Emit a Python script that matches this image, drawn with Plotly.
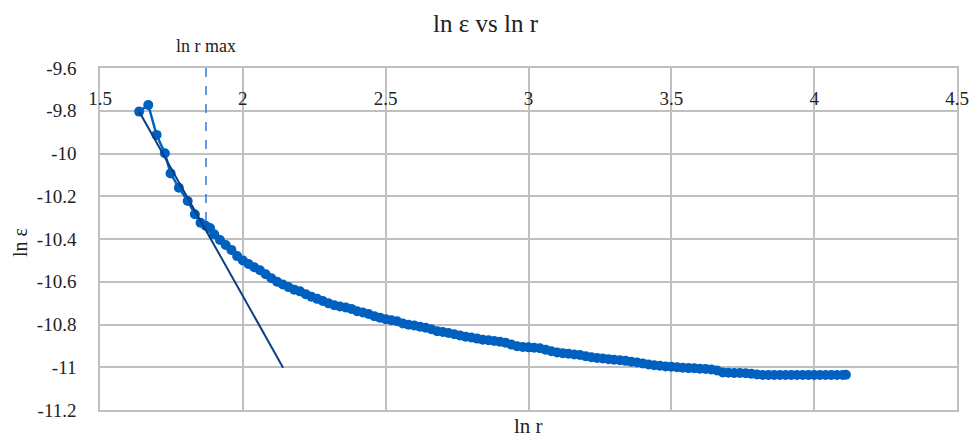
import plotly.graph_objects as go

# ---- data ----
ln_r = [1.637, 1.669, 1.698, 1.727, 1.747, 1.776, 1.807, 1.832, 1.852, 1.870, 1.885,
        1.90, 1.92, 1.94, 1.96, 1.98, 2.00, 2.02, 2.04, 2.06, 2.08, 2.10, 2.12, 2.14,
        2.16, 2.18, 2.20, 2.22, 2.24, 2.26, 2.28, 2.30, 2.32, 2.34, 2.36, 2.38, 2.40,
        2.42, 2.44, 2.46, 2.48, 2.50, 2.52, 2.54, 2.56, 2.58, 2.60, 2.62, 2.64, 2.66,
        2.68, 2.70, 2.72, 2.74, 2.76, 2.78, 2.80, 2.82, 2.84, 2.86, 2.88, 2.90, 2.92,
        2.94, 2.96, 2.98, 3.00, 3.02, 3.04, 3.06, 3.08, 3.10, 3.12, 3.14, 3.16, 3.18,
        3.20, 3.22, 3.24, 3.26, 3.28, 3.30, 3.32, 3.34, 3.36, 3.38, 3.40, 3.42, 3.44,
        3.46, 3.48, 3.50, 3.52, 3.54, 3.56, 3.58, 3.60, 3.62, 3.64, 3.66, 3.68, 3.70,
        3.72, 3.74, 3.76, 3.78, 3.80, 3.82, 3.84, 3.86, 3.88, 3.90, 3.92, 3.94, 3.96,
        3.98, 4.00, 4.02, 4.04, 4.06, 4.08, 4.10, 4.111]
ln_eps = [-9.804, -9.773, -9.913, -9.999, -10.093, -10.160, -10.222, -10.284, -10.324, -10.338, -10.349,
          -10.378, -10.405, -10.428, -10.451, -10.480, -10.500, -10.517, -10.532, -10.546, -10.565, -10.584, -10.600, -10.613,
          -10.625, -10.637, -10.645, -10.658, -10.670, -10.680, -10.690, -10.701, -10.710, -10.716, -10.720, -10.727, -10.738,
          -10.744, -10.751, -10.761, -10.768, -10.775, -10.780, -10.785, -10.795, -10.801, -10.805, -10.810, -10.815, -10.822,
          -10.831, -10.835, -10.840, -10.846, -10.851, -10.857, -10.861, -10.866, -10.871, -10.874, -10.877, -10.881, -10.885,
          -10.894, -10.902, -10.905, -10.907, -10.909, -10.911, -10.918, -10.925, -10.931, -10.934, -10.937, -10.940, -10.943,
          -10.948, -10.953, -10.957, -10.959, -10.962, -10.965, -10.967, -10.970, -10.974, -10.978, -10.982, -10.987, -10.991,
          -10.993, -10.996, -10.998, -11.000, -11.002, -11.004, -11.005, -11.007, -11.008, -11.010, -11.015, -11.024, -11.026,
          -11.027, -11.027, -11.028, -11.030, -11.034, -11.036, -11.036, -11.036, -11.036, -11.036, -11.036, -11.036, -11.036,
          -11.036, -11.036, -11.036, -11.036, -11.036, -11.036, -11.036, -11.035]

tangent_x = [1.637, 2.141]
tangent_y = [-9.804, -11.002]

ln_r_max = 1.871
ln_r_max_y = [-9.6, -10.33]

x_ticks = [1.5, 2, 2.5, 3, 3.5, 4, 4.5]
x_ticktext = ["1.5", "2", "2.5", "3", "3.5", "4", "4.5"]
y_ticks = [-9.6, -9.8, -10, -10.2, -10.4, -10.6, -10.8, -11, -11.2]
y_ticktext = ["-9.6", "-9.8", "-10", "-10.2", "-10.4", "-10.6", "-10.8", "-11", "-11.2"]

FONT = "Liberation Serif"
GRID = "#c0c0c0"
BLUE = "#0060c0"

fig = go.Figure()
fig.add_trace(go.Scatter(x=ln_r, y=ln_eps, mode="lines+markers",
                         line=dict(color=BLUE, width=2.5),
                         marker=dict(color=BLUE, size=10), showlegend=False))
fig.add_trace(go.Scatter(x=tangent_x, y=tangent_y, mode="lines",
                         line=dict(color="#0b3d82", width=2), showlegend=False))
fig.add_trace(go.Scatter(x=[ln_r_max, ln_r_max], y=ln_r_max_y, mode="lines",
                         line=dict(color="#2f7ad6", width=1.5, dash="dash"), showlegend=False))
# carrier trace so the label axis (x2) is drawn
fig.add_trace(go.Scatter(x=x_ticks, y=[None] * len(x_ticks), xaxis="x2", mode="markers",
                         showlegend=False, hoverinfo="skip"))

fig.update_layout(
    width=971, height=438,
    margin=dict(l=100, r=14, t=68, b=28, autoexpand=False),
    paper_bgcolor="white", plot_bgcolor="white",
    font=dict(family=FONT, color="#222", size=18),
    title=dict(text="ln ε vs ln r", x=0.5, xref="container", xanchor="center",
               y=1 - 23 / 438, yanchor="middle", font=dict(size=25, family=FONT, color="#222")),
    xaxis=dict(range=[1.5, 4.5], tickvals=x_ticks, showticklabels=False, automargin=False,
               showgrid=True, gridcolor=GRID, gridwidth=1.5, zeroline=False,
               showline=True, linecolor=GRID, linewidth=1.5, mirror=True, ticks=""),
    xaxis2=dict(range=[1.5, 4.5], overlaying="x", anchor="free", position=0.875,
                side="top", tickvals=x_ticks, ticktext=x_ticktext, showgrid=False,
                zeroline=False, showline=False, ticks="", ticklabelstandoff=2, automargin=False,
                tickfont=dict(size=19, family=FONT, color="#222")),
    yaxis=dict(range=[-11.2, -9.6], tickvals=y_ticks, ticktext=y_ticktext, automargin=False,
               showgrid=True, gridcolor=GRID, gridwidth=1.5, zeroline=False,
               showline=True, linecolor=GRID, linewidth=1.5, mirror=True, ticks="",
               ticklabelstandoff=18, tickfont=dict(size=19, family=FONT, color="#222")),
    annotations=[
        dict(text="ln r max", x=ln_r_max, xref="x", y=1.064, yref="paper",
             xanchor="center", yanchor="middle", showarrow=False,
             font=dict(size=18, family=FONT, color="#222")),
        dict(text="ln r", x=0.5, xref="paper", y=-16 / 342, yref="paper",
             xanchor="center", yanchor="middle", showarrow=False,
             font=dict(size=21, family=FONT, color="#222")),
        dict(text="ln ε", x=-80 / 857, xref="paper", y=0.5 - 4 / 342, yref="paper",
             xanchor="center", yanchor="middle", textangle=-90, showarrow=False,
             font=dict(size=20, family=FONT, color="#222")),
    ],
)

fig.write_html("out.html")
